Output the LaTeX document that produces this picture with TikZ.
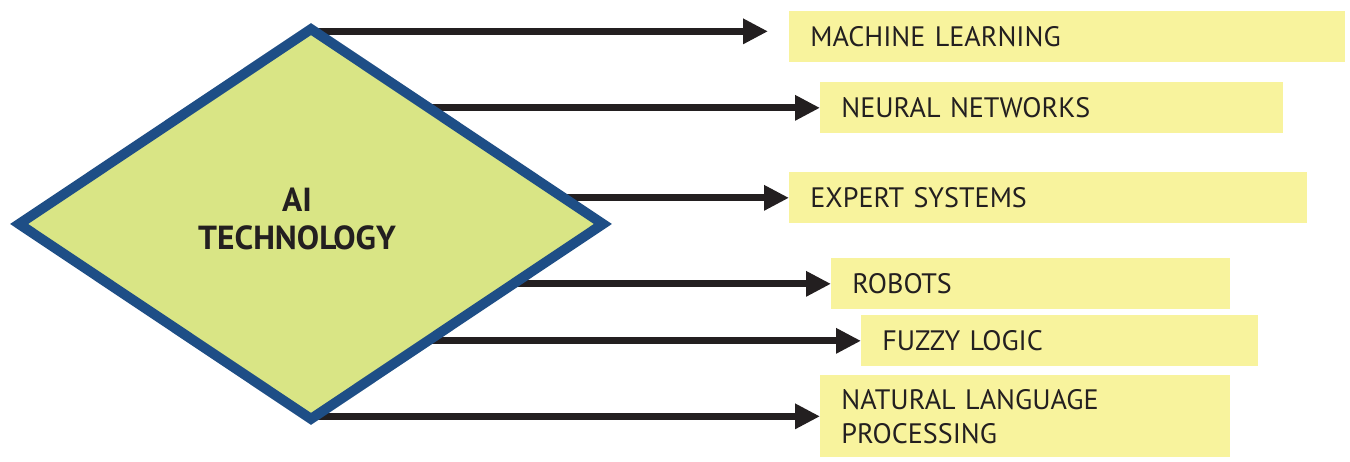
\documentclass[tikz,border=0pt]{standalone}
\usepackage{fontspec}
\setmainfont[WordSpace=0.7]{PT Sans}
\usetikzlibrary{arrows.meta,shapes.geometric,backgrounds}

\definecolor{techfill}{RGB}{217,229,133}
\definecolor{techline}{RGB}{30,78,134}
\definecolor{topicfill}{RGB}{248,243,157}
\definecolor{inkdark}{RGB}{35,31,32}

\tikzset{
	topic/.style={fill=topicfill, anchor=north west, text width=#1, inner xsep=0.42cm, inner ysep=0pt,
		minimum height=1.02cm, align=left, text=inkdark, font=\fontsize{16}{19.5}\selectfont},
	link/.style={inkdark, line width=0.14cm, -{Triangle[length=0.5cm,width=0.48cm]}}
}

\begin{document}
\begin{tikzpicture}[x=0.02cm,y=-0.02cm]
	\useasboundingbox (0,0) rectangle (1350,462);
	
	%TOPICS
	\node[topic=10.28cm] (ml) at (789,11) {MACHINE LEARNING};
	\node[topic=8.42cm] (nn) at (820,82) {NEURAL NETWORKS};
	\node[topic=9.52cm] (es) at (789,172) {EXPERT SYSTEMS};
	\node[topic=7.14cm] (rob) at (831,258) {ROBOTS};
	\node[topic=7.10cm] (fuzzy) at (861,315) {FUZZY LOGIC};
	\node[topic=7.36cm,minimum height=1.64cm] (nlp) at (820,375) {NATURAL LANGUAGE\\PROCESSING};
	
	%CENTRE
	\node[shape=diamond, draw=techline, fill=techfill, line width=0.2cm, inner sep=0pt,
		minimum width=11.76cm, minimum height=7.88cm] (tech) at (311,224) {};
	\node[align=center, text=inkdark, font=\bfseries\fontsize{19}{22}\selectfont] (techlabel) at (297,219) {AI\\TECHNOLOGY};
	
	%ARROWS
	\coordinate (mlend) at ([xshift=-0.42cm,yshift=0.11cm]ml.west);
	\begin{scope}[on background layer]
		\draw[link] (tech.center |- mlend) -- (mlend);
		\draw[link] (tech.center |- nn.west) -- (nn.west);
		\draw[link] (tech.center |- es.west) -- (es.west);
		\draw[link] (tech.center |- rob.west) -- (rob.west);
		\draw[link] (tech.center |- fuzzy.west) -- (fuzzy.west);
		\draw[link] (tech.center |- nlp.west) -- (nlp.west);
	\end{scope}
\end{tikzpicture}
\end{document}
